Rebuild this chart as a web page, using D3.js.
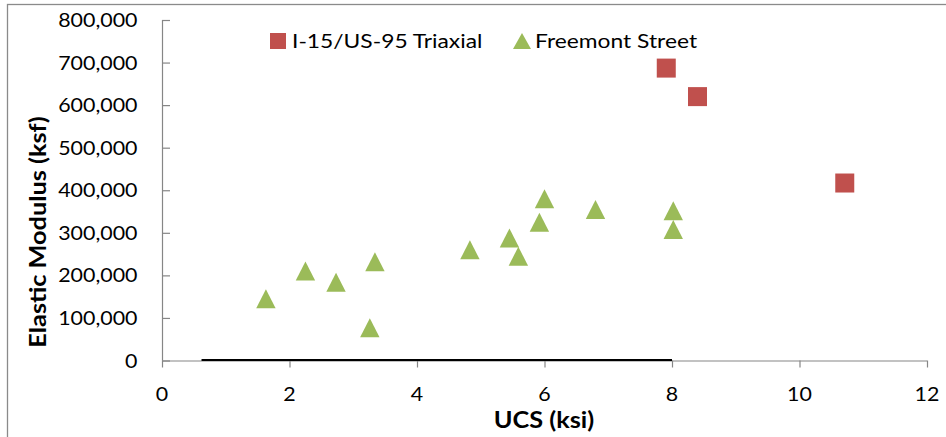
<!DOCTYPE html>
<html>
<head>
<meta charset="utf-8">
<script src="https://cdn.jsdelivr.net/npm/d3@7"></script>
<style>
  html, body { margin: 0; padding: 0; background: #fff; }
  svg { display: block; }
  text { font-family: Lato, "Open Sans", sans-serif; fill: #000; }
</style>
</head>
<body>
<div id="chart"></div>
<script>
// ---- data ----
const triaxialUCS = [7.91, 8.40, 10.71];
const triaxialE   = [687000, 620000, 417000];

const freemontUCS = [1.63, 2.25, 2.73, 3.34, 3.26, 4.83, 5.45, 5.59, 6.00, 5.92, 6.80, 8.02, 8.02];
const freemontE   = [145000, 210000, 184000, 232000, 77000, 260000, 288000, 245000, 380000, 325000, 355000, 352000, 308000];

const baseLineUCS = [0.62, 8.0];
const baseLineE   = [0, 0];

const xTicks = [0, 2, 4, 6, 8, 10, 12];
const yTicks = [0, 100000, 200000, 300000, 400000, 500000, 600000, 700000, 800000];

const seriesNames = ["I-15/US-95 Triaxial", "Freemont Street"];
const seriesColors = ["#C0504D", "#9BBB59"];

// ---- layout ----
const W = 946, H = 437;
const svg = d3.select("#chart").append("svg").attr("width", W).attr("height", H);

// outer chart border (extends beyond right/bottom edges)
svg.append("rect")
  .attr("x", 7.5).attr("y", 4.5)
  .attr("width", W + 20).attr("height", H + 20)
  .attr("fill", "none").attr("stroke", "#8a8a8a").attr("stroke-width", 1.3);

const x = d3.scaleLinear().domain([0, 12]).range([162, 927]);
const y = d3.scaleLinear().domain([0, 800000]).range([360.5, 20]);

const axisColor = "#868686";
const fmt = d3.format(",");
const tickStretch = 1.07, legStretch = 1.14, titleStretch = 1.15;

// y axis
const yAxis = svg.append("g").attr("transform", `translate(${x(0)},0)`)
  .call(d3.axisRight(y).tickValues(yTicks).tickSize(8).tickFormat(""));
yAxis.select(".domain").attr("stroke", axisColor).attr("stroke-width", 1.2).attr("d", `M0.5,${y(800000)}V${y(0)}`);
yAxis.selectAll(".tick line").attr("stroke", axisColor).attr("stroke-width", 1.2);

svg.append("g").selectAll("text").data(yTicks).join("text")
  .attr("transform", d => `translate(137.5,${y(d)}) scale(${tickStretch},1)`)
  .attr("dy", "0.35em")
  .attr("text-anchor", "end")
  .style("font-size", "20px")
  .text(d => fmt(d));

// x axis
const xAxis = svg.append("g").attr("transform", `translate(0,${y(0)})`)
  .call(d3.axisBottom(x).tickValues(xTicks).tickSize(7).tickFormat(""));
xAxis.select(".domain").attr("stroke", axisColor).attr("stroke-width", 1.2).attr("d", `M${x(0)},0.5H${x(12)}`);
xAxis.selectAll(".tick line").attr("stroke", axisColor).attr("stroke-width", 1.2);

svg.append("g").selectAll("text").data(xTicks).join("text")
  .attr("transform", d => `translate(${x(d)},401) scale(${tickStretch},1)`)
  .attr("text-anchor", "middle")
  .style("font-size", "20px")
  .text(d => d);

// black baseline series
svg.append("path")
  .datum(baseLineUCS.map((u, i) => [u, baseLineE[i]]))
  .attr("fill", "none").attr("stroke", "#000").attr("stroke-width", 2)
  .attr("d", d3.line().x(d => x(d[0])).y(d => y(d[1]) - 0.5));

// markers
const sq = 19;
const triPath = "M0,-9.5L9.7,9.5L-9.7,9.5Z";

svg.append("g").selectAll("path").data(freemontUCS.map((u, i) => [u, freemontE[i]])).join("path")
  .attr("d", triPath)
  .attr("transform", d => `translate(${x(d[0])},${y(d[1])})`)
  .attr("fill", seriesColors[1]);

svg.append("g").selectAll("rect").data(triaxialUCS.map((u, i) => [u, triaxialE[i]])).join("rect")
  .attr("x", d => x(d[0]) - sq / 2).attr("y", d => y(d[1]) - sq / 2)
  .attr("width", sq).attr("height", sq)
  .attr("fill", seriesColors[0]);

// legend
const leg = svg.append("g");
leg.append("rect").attr("x", 270).attr("y", 33).attr("width", 16).attr("height", 16).attr("fill", seriesColors[0]);
leg.append("text").attr("transform", `translate(292,48) scale(${legStretch},1)`).style("font-size", "20px").text(seriesNames[0]);
leg.append("path").attr("d", "M522,33L531,49L513,49Z").attr("fill", seriesColors[1]);
leg.append("text").attr("transform", `translate(535,48) scale(${legStretch},1)`).style("font-size", "20px").text(seriesNames[1]);

// axis titles
svg.append("text")
  .attr("transform", `translate(544,428) scale(${titleStretch},1)`)
  .attr("text-anchor", "middle")
  .style("font-size", "22px").style("font-weight", "bold")
  .text("UCS (ksi)");

svg.append("text")
  .attr("transform", `translate(46,232) rotate(-90) scale(${titleStretch},1)`)
  .attr("text-anchor", "middle")
  .style("font-size", "22px").style("font-weight", "bold")
  .text("Elastic Modulus (ksf)");
</script>
</body>
</html>
